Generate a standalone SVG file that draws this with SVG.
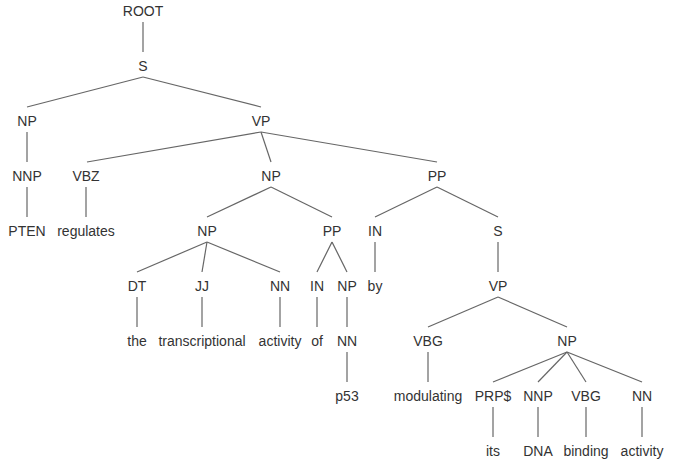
<svg xmlns="http://www.w3.org/2000/svg" width="673" height="465" viewBox="0 0 673 465">
<style>
text{font-family:"Liberation Sans",Arial,sans-serif;font-size:14px;fill:#333;text-anchor:middle}
line{stroke:#666;stroke-width:1.2}
</style>
<rect width="673" height="465" fill="#fff"/>
<g id="connectors">
<line x1="143" y1="22" x2="143" y2="52"/>
<line x1="143" y1="77" x2="27" y2="107"/>
<line x1="143" y1="77" x2="261" y2="107"/>
<line x1="27" y1="132" x2="27" y2="162"/>
<line x1="261" y1="132" x2="87" y2="162"/>
<line x1="261" y1="132" x2="271" y2="162"/>
<line x1="261" y1="132" x2="437" y2="162"/>
<line x1="27" y1="187" x2="27" y2="217"/>
<line x1="86" y1="187" x2="86" y2="217"/>
<line x1="271" y1="187" x2="207" y2="217"/>
<line x1="271" y1="187" x2="332" y2="217"/>
<line x1="437" y1="187" x2="375" y2="217"/>
<line x1="437" y1="187" x2="498" y2="217"/>
<line x1="207" y1="242" x2="137" y2="272"/>
<line x1="207" y1="242" x2="202" y2="272"/>
<line x1="207" y1="242" x2="280" y2="272"/>
<line x1="332" y1="242" x2="317" y2="272"/>
<line x1="332" y1="242" x2="347" y2="272"/>
<line x1="375" y1="242" x2="375" y2="272"/>
<line x1="498" y1="242" x2="498" y2="272"/>
<line x1="137" y1="297" x2="137" y2="327"/>
<line x1="202" y1="297" x2="202" y2="327"/>
<line x1="280" y1="297" x2="280" y2="327"/>
<line x1="317" y1="297" x2="317" y2="327"/>
<line x1="347" y1="297" x2="347" y2="327"/>
<line x1="498" y1="297" x2="428" y2="327"/>
<line x1="498" y1="297" x2="567" y2="327"/>
<line x1="347" y1="352" x2="347" y2="382"/>
<line x1="428" y1="352" x2="428" y2="382"/>
<line x1="567" y1="352" x2="493" y2="382"/>
<line x1="567" y1="352" x2="538" y2="382"/>
<line x1="567" y1="352" x2="586" y2="382"/>
<line x1="567" y1="352" x2="642" y2="382"/>
<line x1="493" y1="407" x2="493" y2="437"/>
<line x1="538" y1="407" x2="538" y2="437"/>
<line x1="586" y1="407" x2="586" y2="437"/>
<line x1="642" y1="407" x2="642" y2="437"/>
</g>
<g id="n-root"><text x="143" y="16">ROOT</text></g>
<g id="n-s"><text x="143" y="71">S</text></g>
<g id="n-np1"><text x="27" y="126">NP</text></g>
<g id="n-vp1"><text x="261" y="126">VP</text></g>
<g id="n-nnp1"><text x="27" y="181">NNP</text></g>
<g id="n-vbz"><text x="86" y="181">VBZ</text></g>
<g id="n-np2"><text x="271" y="181">NP</text></g>
<g id="n-pp1"><text x="437" y="181">PP</text></g>
<g id="w-pten"><text x="27" y="236">PTEN</text></g>
<g id="w-regulates"><text x="86" y="236">regulates</text></g>
<g id="n-np3"><text x="207" y="236">NP</text></g>
<g id="n-pp2"><text x="332" y="236">PP</text></g>
<g id="n-in1"><text x="375" y="236">IN</text></g>
<g id="n-s2"><text x="498" y="236">S</text></g>
<g id="n-dt"><text x="137" y="291">DT</text></g>
<g id="n-jj"><text x="202" y="291">JJ</text></g>
<g id="n-nn1"><text x="280" y="291">NN</text></g>
<g id="n-in2"><text x="317" y="291">IN</text></g>
<g id="n-np4"><text x="347" y="291">NP</text></g>
<g id="w-by"><text x="375" y="291">by</text></g>
<g id="n-vp2"><text x="498" y="291">VP</text></g>
<g id="w-the"><text x="137" y="346">the</text></g>
<g id="w-transcriptional"><text x="202" y="346">transcriptional</text></g>
<g id="w-activity1"><text x="280" y="346">activity</text></g>
<g id="w-of"><text x="317" y="346">of</text></g>
<g id="n-nn2"><text x="347" y="346">NN</text></g>
<g id="n-vbg1"><text x="428" y="346">VBG</text></g>
<g id="n-np5"><text x="567" y="346">NP</text></g>
<g id="w-p53"><text x="347" y="401">p53</text></g>
<g id="w-modulating"><text x="428" y="401">modulating</text></g>
<g id="n-prp"><text x="493" y="401">PRP$</text></g>
<g id="n-nnp2"><text x="538" y="401">NNP</text></g>
<g id="n-vbg2"><text x="586" y="401">VBG</text></g>
<g id="n-nn3"><text x="642" y="401">NN</text></g>
<g id="w-its"><text x="493" y="456">its</text></g>
<g id="w-dna"><text x="538" y="456">DNA</text></g>
<g id="w-binding"><text x="586" y="456">binding</text></g>
<g id="w-activity2"><text x="642" y="456">activity</text></g>
</svg>
